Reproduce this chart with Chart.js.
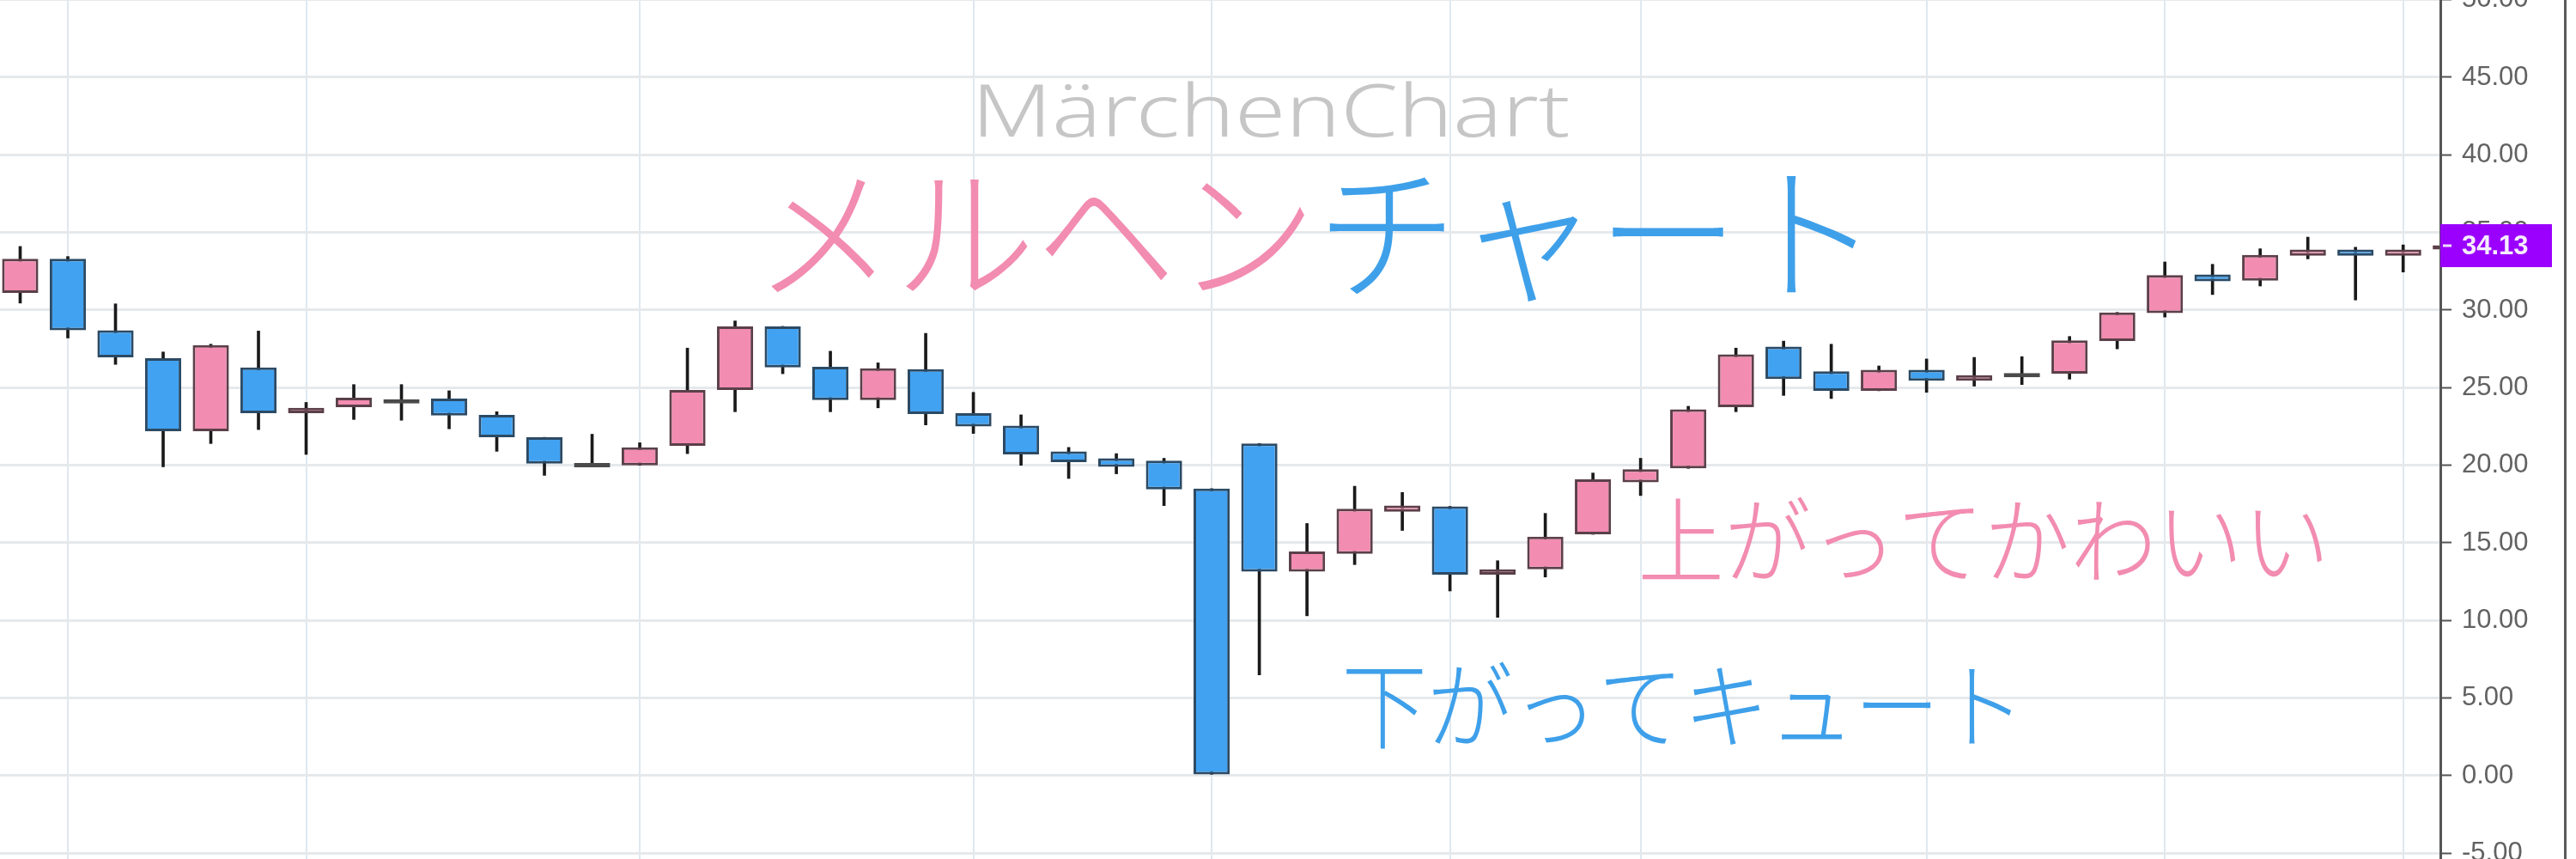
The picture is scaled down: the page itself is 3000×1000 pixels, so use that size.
<!DOCTYPE html>
<html>
<head>
<meta charset="utf-8">
<title>メルヘンチャート</title>
<script src="https://cdn.jsdelivr.net/npm/chart.js@4.4.1/dist/chart.umd.min.js"></script>
<style>
    html, body { margin: 0; padding: 0; background: #fff; }
    #wrap { position: relative; width: 3000px; height: 1000px; overflow: hidden; }
    #edge { position: absolute; left: 2986px; top: 0; width: 3px; height: 1000px; background: #5a5a5a; }
</style>
</head>
<body>
<div id="wrap">
    <canvas id="candles" width="3000" height="1000"></canvas>
    <div id="edge"></div>
</div>
<script>
// Candles, left to right (the last one is cut by the price axis)
const opens  = [31.1, 33.3, 28.7, 26.9, 22.2, 26.3, 23.35, 23.75, 24.25, 24.3,
                23.25, 21.8, 20.15, 20.0, 21.25, 24.85, 28.95, 26.35, 24.2, 26.2,
                23.35, 22.55, 20.9, 20.45, 20.3, 18.5, 21.4, 13.15, 14.3, 17.0,
                17.35, 12.95, 13.3, 15.55, 18.9, 19.8, 23.75, 27.65, 26.05, 24.8,
                26.15, 25.45, 25.95, 25.9, 28.0, 29.8, 32.3, 31.9, 33.5, 33.9,
                33.5, 33.9];
const highs  = [34.1, 33.45, 30.4, 27.3, 27.8, 28.65, 24.05, 25.2, 25.2, 24.8,
                23.45, 21.8, 22.0, 21.45, 27.55, 29.3, 28.95, 27.35, 26.6, 28.5,
                24.7, 23.25, 21.15, 20.75, 20.45, 18.5, 21.4, 16.25, 18.65, 18.25,
                17.35, 13.85, 16.9, 19.5, 20.45, 23.8, 27.55, 28.0, 27.8, 26.4,
                26.85, 26.95, 27.0, 28.3, 29.85, 33.1, 32.95, 33.95, 34.7, 34.05,
                34.2, 34.3];
const lows   = [30.45, 28.2, 26.5, 19.9, 21.4, 22.3, 20.7, 22.95, 22.9, 22.35,
                20.9, 19.35, 19.95, 20.0, 20.75, 23.45, 25.9, 23.45, 23.7, 22.6,
                22.05, 20.0, 19.15, 19.45, 17.4, 0.0, 6.5, 10.3, 13.6, 15.8,
                11.9, 10.2, 12.8, 15.55, 18.05, 19.8, 23.45, 24.5, 24.3, 24.8,
                24.7, 25.1, 25.2, 25.55, 27.5, 29.55, 31.0, 31.55, 33.3, 30.65,
                32.45, 33.8];
const closes = [33.3, 28.7, 26.95, 22.2, 27.75, 23.35, 23.7, 24.35, 24.25, 23.2,
                21.8, 20.1, 20.15, 21.15, 24.85, 28.95, 26.3, 24.2, 26.25, 23.3,
                22.5, 20.7, 20.2, 19.9, 18.45, 0.0, 13.15, 14.45, 17.2, 17.4,
                12.95, 13.3, 15.4, 19.1, 19.75, 23.6, 27.15, 25.55, 24.8, 26.15,
                25.45, 25.8, 25.95, 28.05, 29.85, 32.25, 31.85, 33.55, 33.9, 33.5,
                33.9, 34.13];

// Price axis labels and the bars that carry a vertical time grid line
const priceTicks = [-5, 0, 5, 10, 15, 20, 25, 30, 35, 40, 45, 50];
const gridBars = [1, 6, 13, 20, 25, 30, 34, 40, 45, 50];
const lastPrice = closes[closes.length - 1];

// Colours
const upColor = '#f28cb0';
const downColor = '#41a2f2';
const flatColor = '#4a4a4a';
const upEdge = '#5b4049';
const downEdge = '#2c4a64';
const wickColor = '#1a1a1a';

// Decorative captions, anchored in bar / price units
const captions = [
    { parts: [['MärchenChart', '#c6c6c6']], font: '300 84px "Noto Sans", sans-serif',
      bar: 26.24, price: 41.17, width: 697, baseline: 'alphabetic' },
    { parts: [['メルヘン', upColor], ['チャート', '#3fa0ea']], font: '300 172px "Noto Sans CJK JP"',
      bar: 27.2, price: 35.0, width: 1310, baseline: 'middle' },
    { parts: [['上がってかわいい', upColor]], font: '300 110px "Noto Sans CJK JP"',
      bar: 41.2, price: 15.17, width: 806, baseline: 'middle' },
    { parts: [['下がってキュート', '#3fa0ea']], font: '300 110px "Noto Sans CJK JP"',
      bar: 34.9, price: 4.5, width: 796, baseline: 'middle' }
];

const bars = opens.map((_, i) => i);
const bodyColors = bars.map(i => closes[i] > opens[i] ? upColor : closes[i] < opens[i] ? downColor : flatColor);
const edgeColors = bars.map(i => closes[i] > opens[i] ? upEdge : closes[i] < opens[i] ? downEdge : flatColor);

const captionPlugin = {
    id: 'captions',
    beforeDatasetsDraw(chart) {
        const { ctx, scales: { x, y } } = chart;
        captions.forEach(c => {
            ctx.save();
            ctx.font = c.font;
            ctx.textBaseline = c.baseline;
            ctx.textAlign = 'left';
            const full = c.parts.map(p => p[0]).join('');
            const w = ctx.measureText(full).width;
            ctx.translate(x.getPixelForValue(c.bar), y.getPixelForValue(c.price));
            ctx.scale(c.width / w, 1);
            let cursor = -w / 2;
            c.parts.forEach(([txt, col]) => {
                ctx.fillStyle = col;
                ctx.fillText(txt, cursor, 0);
                cursor += ctx.measureText(txt).width;
            });
            ctx.restore();
        });
    }
};

const priceTag = {
    id: 'priceTag',
    afterDraw(chart) {
        const { ctx, chartArea, scales: { y } } = chart;
        const py = Math.round(y.getPixelForValue(lastPrice));
        ctx.save();
        ctx.fillStyle = '#9b00ff';
        ctx.fillRect(chartArea.right, py - 25, 130, 50);
        ctx.strokeStyle = '#f3dcff';
        ctx.lineWidth = 3;
        ctx.beginPath();
        ctx.moveTo(chartArea.right + 3, py);
        ctx.lineTo(chartArea.right + 13, py);
        ctx.stroke();
        ctx.fillStyle = '#f6ebff';
        ctx.font = 'bold 31px "Liberation Sans", Arial, sans-serif';
        ctx.textBaseline = 'middle';
        ctx.fillText(lastPrice.toFixed(2), chartArea.right + 25, py + 1);
        ctx.restore();
    }
};

function drawChart() {
    new Chart(document.getElementById('candles'), {
        type: 'bar',
        data: {
            datasets: [
                {
                    label: 'wick',
                    data: bars.map(i => ({ x: i, y: [lows[i], highs[i]] })),
                    backgroundColor: wickColor,
                    barThickness: 3,
                    grouped: false,
                    order: 2
                },
                {
                    label: 'body',
                    data: bars.map(i => ({ x: i, y: [opens[i], closes[i]] })),
                    backgroundColor: bodyColors,
                    borderColor: edgeColors,
                    borderWidth: 3,
                    borderSkipped: false,
                    barPercentage: 0.76,
                    categoryPercentage: 1,
                    minBarLength: 5,
                    grouped: false,
                    order: 1
                }
            ]
        },
        options: {
            responsive: false,
            animation: false,
            events: [],
            layout: { padding: { left: 0, top: 0, bottom: 0, right: 12 } },
            plugins: { legend: { display: false }, tooltip: { enabled: false } },
            scales: {
                x: {
                    type: 'linear',
                    min: -0.4234,
                    max: 50.78,
                    offset: false,
                    afterBuildTicks: s => { s.ticks = gridBars.map(v => ({ value: v })); },
                    grid: { color: '#dfe8ef', lineWidth: 2, drawTicks: false, offset: false },
                    border: { display: false },
                    ticks: { display: false }
                },
                y: {
                    type: 'linear',
                    position: 'right',
                    min: -5.37,
                    max: 49.98,
                    afterBuildTicks: s => { s.ticks = priceTicks.map(v => ({ value: v })); },
                    afterFit: s => { s.width = 146; s.paddingTop = 0; s.paddingBottom = 0; },
                    grid: { color: '#e6e9ec', lineWidth: 3, tickColor: '#555', tickWidth: 2, tickLength: 13 },
                    border: { display: true, color: '#555', width: 3, z: 1 },
                    ticks: {
                        padding: 12,
                        color: '#626262',
                        autoSkip: false,
                        font: { family: '"Liberation Sans", Arial, sans-serif', size: 31 },
                        callback: v => v.toFixed(2)
                    }
                }
            }
        },
        plugins: [captionPlugin, priceTag]
    });
}

const fontsReady = Promise.all([
    document.fonts.load('300 172px "Noto Sans CJK JP"', 'メルヘンチャート上下'),
    document.fonts.load('300 84px "Noto Sans"', 'MärchenChart')
]);
Promise.race([fontsReady, new Promise(r => setTimeout(r, 1500))]).then(drawChart, drawChart);
</script>
</body>
</html>
